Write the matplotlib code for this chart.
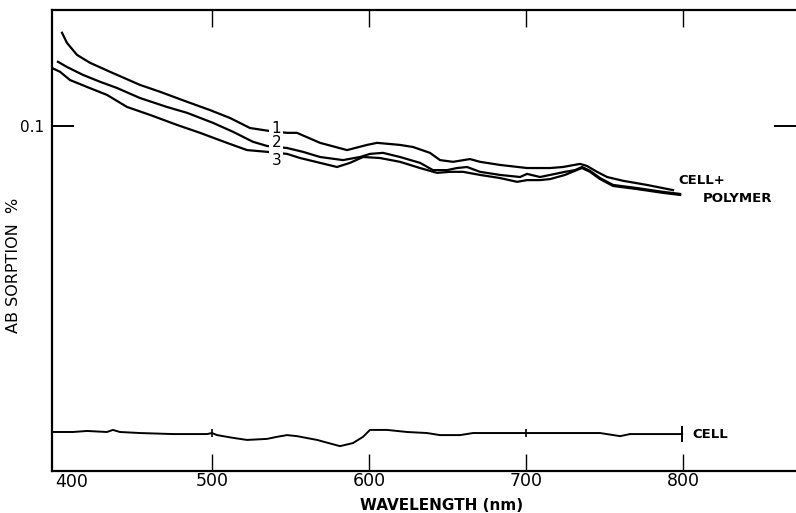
import numpy as np
import matplotlib
matplotlib.use("Agg")
import matplotlib.pyplot as plt

# ------------------------------------------------------------
# data (wavelength nm, absorption %)
# ------------------------------------------------------------
wl_1 = [404.5, 407.6, 414.0, 422.3, 435.0, 454.1, 466.9, 484.1, 498.7, 511.5,
        524.2, 535.7, 547.8, 554.1, 568.8, 586.0, 598.7, 605.1, 619.7, 628.0,
        638.8, 645.2, 653.5, 664.3, 670.7, 683.4, 700.6, 715.3, 723.5, 734.4,
        738.8, 745.2, 751.6, 761.8, 777.0, 793.6]
abs_1 = [0.1270, 0.1241, 0.1206, 0.1183, 0.1157, 0.1119, 0.1099, 0.1070, 0.1046, 0.1023,
         0.0994, 0.0986, 0.0980, 0.0980, 0.0951, 0.0930, 0.0945, 0.0951, 0.0945, 0.0939,
         0.0922, 0.0901, 0.0896, 0.0904, 0.0896, 0.0887, 0.0878, 0.0878, 0.0881, 0.0890,
         0.0884, 0.0867, 0.0852, 0.0841, 0.0829, 0.0814]

wl_2 = [401.9, 407.6, 417.8, 428.7, 439.5, 454.1, 471.3, 484.1, 500.6, 513.4,
        526.1, 535.0, 547.8, 557.9, 568.8, 583.4, 594.3, 600.6, 608.9, 619.7,
        632.5, 640.7, 649.7, 656.0, 662.4, 670.7, 683.4, 696.2, 700.6, 708.9,
        715.3, 724.8, 731.2, 735.6, 740.7, 747.1, 755.4, 770.7, 787.2, 798.1]
abs_2 = [0.1186, 0.1171, 0.1148, 0.1128, 0.1110, 0.1081, 0.1055, 0.1038, 0.1009, 0.0983,
         0.0954, 0.0942, 0.0936, 0.0925, 0.0910, 0.0901, 0.0910, 0.0919, 0.0922, 0.0910,
         0.0893, 0.0872, 0.0872, 0.0878, 0.0881, 0.0867, 0.0858, 0.0852, 0.0861, 0.0852,
         0.0858, 0.0867, 0.0872, 0.0881, 0.0870, 0.0849, 0.0829, 0.0820, 0.0809, 0.0803]

wl_3 = [398.1, 403.2, 409.6, 420.4, 433.1, 445.9, 460.5, 477.7, 492.4, 509.5,
        522.3, 535.0, 547.8, 556.1, 568.8, 579.6, 587.9, 596.2, 607.0, 619.7,
        632.5, 643.3, 651.6, 659.9, 670.7, 683.4, 694.3, 700.6, 708.9, 715.3,
        724.8, 731.2, 735.6, 740.7, 747.1, 755.4, 770.7, 787.2, 798.1]
abs_3 = [0.1168, 0.1157, 0.1133, 0.1113, 0.1090, 0.1055, 0.1032, 0.1003, 0.0980, 0.0951,
         0.0930, 0.0925, 0.0919, 0.0907, 0.0893, 0.0881, 0.0893, 0.0910, 0.0907, 0.0896,
         0.0878, 0.0864, 0.0867, 0.0867, 0.0858, 0.0849, 0.0838, 0.0843, 0.0843, 0.0846,
         0.0858, 0.0870, 0.0878, 0.0867, 0.0846, 0.0826, 0.0817, 0.0806, 0.0800]

wl_cell = [398.7, 411.5, 420.4, 433.1, 436.9, 441.4, 454.1, 475.2, 496.8, 500.0,
           503.2, 513.4, 522.3, 535.0, 541.4, 547.8, 554.1, 566.9, 581.5, 589.8,
           596.2, 600.6, 611.5, 624.2, 636.9, 645.2, 658.0, 666.2, 683.4, 691.7,
           713.4, 734.4, 747.1, 759.9, 766.2, 785.4, 799.4]
abs_cell = [0.0113, 0.0113, 0.0116, 0.0113, 0.0119, 0.0113, 0.0110, 0.0107, 0.0107, 0.0110,
            0.0104, 0.0096, 0.0090, 0.0093, 0.0099, 0.0104, 0.0101, 0.0090, 0.0072, 0.0081,
            0.0099, 0.0119, 0.0119, 0.0113, 0.0110, 0.0104, 0.0104, 0.0110, 0.0110, 0.0110,
            0.0110, 0.0110, 0.0110, 0.0101, 0.0107, 0.0107, 0.0107]

curve_labels = ["1", "2", "3"]
x_ticks = [500, 600, 700, 800]

plt.rcParams['font.family'] = ['DejaVu Sans']

fig = plt.figure(figsize=(7.96, 5.13), dpi=100)
ax = fig.add_axes([0.0653, 0.0819, 0.9347, 0.8986])

LW = 1.6
for wl, ab in [(wl_1, abs_1), (wl_2, abs_2), (wl_3, abs_3)]:
    ax.plot(wl, ab, color='black', lw=LW, solid_joinstyle='round')
ax.plot(wl_cell, abs_cell, color='black', lw=1.4)

# little markers on the CELL trace at 500 / 700 and end cap at 800
marks_x = [500, 700]
ax.plot(marks_x, np.interp(marks_x, wl_cell, abs_cell), ls='none', marker='|',
        ms=6, mew=1.2, color='black')
ax.plot(wl_cell[-1], abs_cell[-1], ls='none', marker='|', ms=12, mew=1.4, color='black')

# curve numbers (white box leaves the gap in the traces)
for lab, y in zip(curve_labels, [0.0994, 0.0951, 0.0901]):
    ax.text(541, y, lab, fontsize=11, ha='center', va='center', zorder=5,
            bbox=dict(facecolor='white', edgecolor='none', pad=1.5))

ax.text(796.8, 0.0841, 'CELL+', fontsize=9.5, fontweight='bold', ha='left', va='center')
ax.text(812.7, 0.0789, 'POLYMER', fontsize=9.5, fontweight='bold', ha='left', va='center')
ax.text(806, abs_cell[-1], 'CELL', fontsize=9.5, fontweight='bold', ha='left', va='center')

ax.set_xlim(398.1, 871.9)
ax.set_ylim(0, 0.1336)

for side in ['left', 'top', 'bottom']:
    ax.spines[side].set_linewidth(1.6)
ax.spines['right'].set_visible(False)

ax.set_xticks(x_ticks)
ax.set_xticklabels([str(v) for v in x_ticks], fontsize=12.5)
ax.tick_params(axis='x', direction='in', length=12, width=1.0, top=True, pad=1)
ax.text(410.8, -0.0005, '400', fontsize=12.5, ha='center', va='top')

ax.set_yticks([0.1])
ax.set_yticklabels(['0.1'], fontsize=11)
ax.tick_params(axis='y', direction='in', length=16, width=1.4, right=True, pad=6)

ax.set_xlabel('WAVELENGTH (nm)', fontsize=11, fontweight='bold')
ax.xaxis.set_label_coords(0.523, -0.059)
ax.set_ylabel('AB SORPTION  %', fontsize=11.5)
ax.yaxis.set_label_coords(-0.041, 0.447)

fig.savefig('out.png', dpi=100)
